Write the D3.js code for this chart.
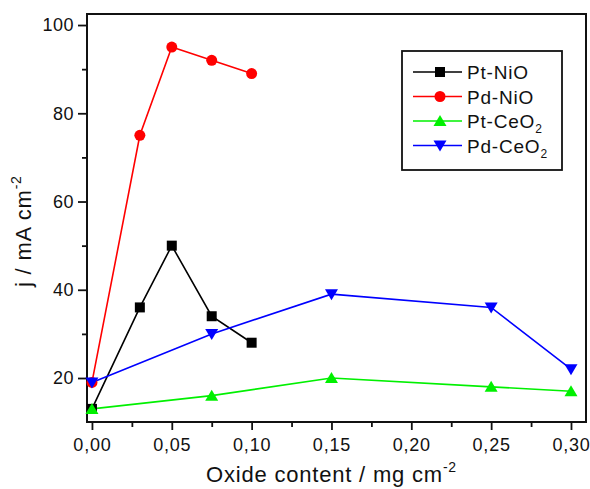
<!DOCTYPE html>
<html>
<head>
<meta charset="utf-8">
<script src="https://cdn.jsdelivr.net/npm/d3@7"></script>
<style>
  body { margin: 0; background: #fff; }
  text { font-family: "Liberation Sans", Arial, sans-serif; }
</style>
</head>
<body>
<div id="wrapper"></div>
<script>
// valores
const seriesNames = ["Pt-NiO", "Pd-NiO", "Pt-CeO2", "Pd-CeO2"];
const ptNiO = [[0, 13], [0.03, 36], [0.05, 50], [0.075, 34], [0.1, 28]];
const pdNiO = [[0, 19], [0.03, 75], [0.05, 95], [0.075, 92], [0.1, 89]];
const ptCeO2 = [[0, 13], [0.075, 16], [0.15, 20], [0.25, 18], [0.3, 17]];
const pdCeO2 = [[0, 19], [0.075, 30], [0.15, 39], [0.25, 36], [0.3, 22]];
const xTicks = [0, 0.05, 0.1, 0.15, 0.2, 0.25, 0.3];
const yTicks = [20, 40, 60, 80, 100];

function draw() {
  const dimensions = {
    width: 590,
    height: 489,
    margin: { top: 14, right: 4, bottom: 67, left: 87 }
  };
  const w = dimensions.width - dimensions.margin.left - dimensions.margin.right;
  const h = dimensions.height - dimensions.margin.top - dimensions.margin.bottom;

  const svg = d3.select("#wrapper")
    .append("svg")
      .attr("width", dimensions.width)
      .attr("height", dimensions.height);

  const bounds = svg.append("g")
    .attr("transform", "translate(" + dimensions.margin.left + "," + dimensions.margin.top + ")");

  const x = d3.scaleLinear().domain([-0.0031, 0.3094]).range([0, w]);
  const y = d3.scaleLinear().domain([10.03, 102.5]).range([h, 0]);

  const locale = d3.formatLocale({ decimal: ",", thousands: ".", grouping: [3], currency: ["", ""] });
  const fmtX = locale.format(".2f");

  // eixos com ticks menores
  const minorX = d3.range(0.025, 0.3, 0.05);
  const minorY = [30, 50, 70, 90];

  bounds.append("g")
    .attr("transform", "translate(0," + h + ")")
    .call(d3.axisBottom(x).tickValues(minorX).tickSize(5).tickFormat(""))
    .call(g => g.select(".domain").remove())
    .selectAll("line").attr("stroke-width", 1.8).attr("stroke", "#111");
  const xAxis = bounds.append("g")
    .attr("transform", "translate(0," + h + ")")
    .call(d3.axisBottom(x).tickValues(xTicks).tickSize(8).tickPadding(8).tickFormat(fmtX));
  xAxis.select(".domain").remove();
  xAxis.selectAll("line").attr("stroke-width", 1.8).attr("stroke", "#111");
  xAxis.selectAll("text").attr("font-size", 18).attr("letter-spacing", 0.8).attr("fill", "#111");

  bounds.append("g")
    .call(d3.axisLeft(y).tickValues(minorY).tickSize(5).tickFormat(""))
    .call(g => g.select(".domain").remove())
    .selectAll("line").attr("stroke-width", 1.8).attr("stroke", "#111");
  const yAxis = bounds.append("g")
    .call(d3.axisLeft(y).tickValues(yTicks).tickSize(9).tickPadding(4).tickFormat(d3.format("d")));
  yAxis.select(".domain").remove();
  yAxis.selectAll("line").attr("stroke-width", 1.8).attr("stroke", "#111");
  yAxis.selectAll("text").attr("font-size", 18).attr("letter-spacing", 0.5).attr("fill", "#111");

  // moldura
  bounds.append("rect")
    .attr("width", w)
    .attr("height", h)
    .attr("fill", "none")
    .attr("stroke", "#111")
    .attr("stroke-width", 2);

  const line = d3.line().x(d => x(d[0])).y(d => y(d[1]));

  const series = [
    { name: seriesNames[0], data: ptNiO, color: "#000000", symbol: "square" },
    { name: seriesNames[1], data: pdNiO, color: "#ff0000", symbol: "circle" },
    { name: seriesNames[2], data: ptCeO2, color: "#00f000", symbol: "up" },
    { name: seriesNames[3], data: pdCeO2, color: "#0000ff", symbol: "down" }
  ];

  const marker = (g, symbol, color) => {
    if (symbol === "square") {
      g.append("rect").attr("x", -5).attr("y", -5).attr("width", 10).attr("height", 10).attr("fill", color);
    } else if (symbol === "circle") {
      g.append("circle").attr("r", 5.5).attr("fill", color);
    } else if (symbol === "up") {
      g.append("path").attr("d", "M0,-6L6.5,5L-6.5,5Z").attr("fill", color);
    } else {
      g.append("path").attr("d", "M0,6L6.5,-5L-6.5,-5Z").attr("fill", color);
    }
  };

  series.forEach(s => {
    bounds.append("path")
      .attr("d", line(s.data))
      .attr("fill", "none")
      .attr("stroke", s.color)
      .attr("stroke-width", 1.6);
  });
  series.forEach(s => {
    bounds.append("g")
      .selectAll("g")
      .data(s.data)
      .enter()
      .append("g")
      .attr("transform", d => "translate(" + x(d[0]) + "," + y(d[1]) + ")")
      .each(function () { marker(d3.select(this), s.symbol, s.color); });
  });

  // legenda
  const legend = svg.append("g").attr("transform", "translate(402,51)");
  legend.append("rect")
    .attr("width", 160)
    .attr("height", 119)
    .attr("fill", "#fff")
    .attr("stroke", "#111")
    .attr("stroke-width", 1.8);
  series.forEach((s, i) => {
    const row = legend.append("g").attr("transform", "translate(0," + (21 + i * 24.5) + ")");
    row.append("line")
      .attr("x1", 11).attr("x2", 60)
      .attr("stroke", s.color).attr("stroke-width", 1.6);
    const m = row.append("g").attr("transform", "translate(38,0)");
    marker(m, s.symbol, s.color);
    const t = row.append("text")
      .attr("x", 65)
      .attr("y", 7)
      .attr("font-size", 19)
      .attr("letter-spacing", 0.8)
      .attr("fill", "#111");
    if (s.name.endsWith("2")) {
      t.append("tspan").text(s.name.slice(0, -1));
      t.append("tspan").attr("font-size", 12).attr("dy", 5).text("2");
    } else {
      t.text(s.name);
    }
  });

  // titulos dos eixos
  const xt = svg.append("text")
    .attr("x", 206)
    .attr("y", 482)
    .attr("font-size", 22)
    .attr("letter-spacing", 0.8)
    .attr("fill", "#111");
  xt.append("tspan").text("Oxide content / mg cm");
  xt.append("tspan").attr("font-size", 14).attr("dy", -10).text("-2");

  const yt = svg.append("text")
    .attr("transform", "translate(31,287) rotate(-90)")
    .attr("font-size", 22)
    .attr("letter-spacing", 0.8)
    .attr("fill", "#111");
  yt.append("tspan").text("j / mA cm");
  yt.append("tspan").attr("font-size", 14).attr("dy", -10).text("-2");
}
draw();
</script>
</body>
</html>
